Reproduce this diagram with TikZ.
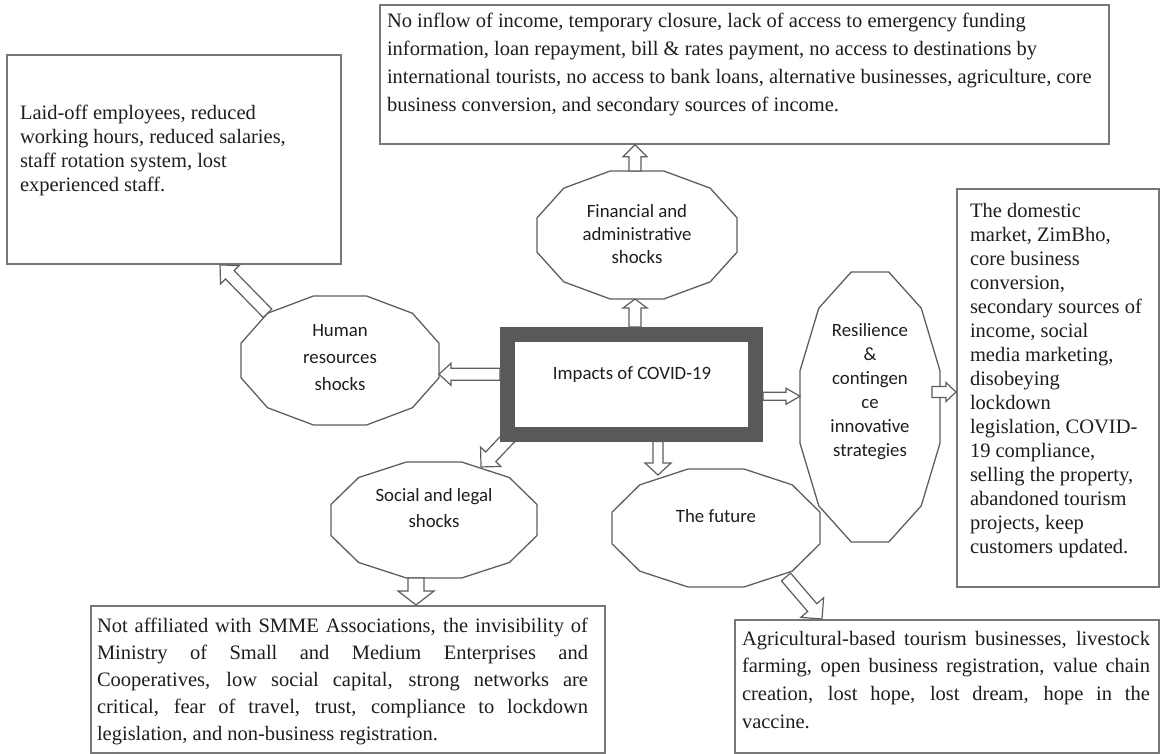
\documentclass[tikz,border=0pt]{standalone}
\usepackage{fontspec}
\setmainfont{Liberation Serif}
\newfontfamily\calfont{Carlito}
\usetikzlibrary{calc}
\pgfdeclarelayer{bg}
\pgfdeclarelayer{back}
\pgfsetlayers{bg,back,main}

\definecolor{boxgray}{HTML}{777777}
\definecolor{framegray}{HTML}{595959}
\definecolor{octgray}{HTML}{5E5E5E}
\definecolor{txt}{HTML}{1E1E1E}

\tikzset{
  textbox/.style={draw=boxgray, line width=1.8pt, fill=white, inner sep=0pt, anchor=north west},
  boxtext/.style={text=txt, inner sep=0pt, outer sep=0pt, anchor=north west, align=left},
  octnode/.style={inner sep=0pt, outer sep=0pt},
  octtext/.style={text=txt, inner sep=0pt, align=center},
  octline/.style={draw=octgray, line width=1.3pt, fill=white, line join=miter},
  blockarrow/.style={draw=octgray, line width=1.2pt, fill=white, line join=miter},
  frame/.style={draw=framegray, line width=15pt, fill=white, inner sep=0pt}
}

\newcommand\dodecshape[1]{%
  \draw[octline] let \p1=(#1.north west), \p2=(#1.south east) in
  ({\x1+0.366*(\x2-\x1)},\y1) -- ({\x1+0.634*(\x2-\x1)},\y1)
  -- ({\x1+0.866*(\x2-\x1)},{\y1+0.134*(\y2-\y1)})
  -- (\x2,{\y1+0.366*(\y2-\y1)}) -- (\x2,{\y1+0.634*(\y2-\y1)})
  -- ({\x1+0.866*(\x2-\x1)},{\y1+0.866*(\y2-\y1)})
  -- ({\x1+0.634*(\x2-\x1)},\y2) -- ({\x1+0.366*(\x2-\x1)},\y2)
  -- ({\x1+0.134*(\x2-\x1)},{\y1+0.866*(\y2-\y1)})
  -- (\x1,{\y1+0.634*(\y2-\y1)}) -- (\x1,{\y1+0.366*(\y2-\y1)})
  -- ({\x1+0.134*(\x2-\x1)},{\y1+0.134*(\y2-\y1)}) -- cycle;}

% #1 from, #2 to, #3 half shaft, #4 half head, #5 head length
\newcommand\blockarr[5]{%
  \path let \p1=(#1), \p2=(#2) in \pgfextra{%
    \pgfmathsetmacro\tmpang{atan2(\y2-\y1,\x2-\x1)}%
    \pgfmathsetmacro\tmplen{veclen(\x2-\x1,\y2-\y1)}%
    \global\let\barang\tmpang
    \global\let\barlen\tmplen};
  \draw[blockarrow, shift={(#1)}, rotate=\barang]
    (0pt,#3pt) -- ({\barlen pt-#5pt},#3pt) -- ({\barlen pt-#5pt},#4pt) -- (\barlen pt,0pt)
    -- ({\barlen pt-#5pt},-#4pt) -- ({\barlen pt-#5pt},-#3pt) -- (0pt,-#3pt) -- cycle;}

\begin{document}
\begin{tikzpicture}[x=1pt,y=-1pt]
\begin{pgfonlayer}{bg}
\fill[white] (0,0) rectangle (1163,754);
\end{pgfonlayer}
\useasboundingbox (0,0) rectangle (1163,754);

% text boxes
\node[textbox, minimum width=729pt, minimum height=139pt] (tbox) at (379,4) {};
\node[textbox, minimum width=334pt, minimum height=209pt] (lbox) at (6,54) {};
\node[textbox, minimum width=202pt, minimum height=398pt] (rbox) at (956,188) {};
\node[textbox, minimum width=514pt, minimum height=147pt] (blbox) at (90,605) {};
\node[textbox, minimum width=424pt, minimum height=133pt] (brbox) at (734,619) {};

% dodecagons
\node[octnode, minimum width=198pt, minimum height=129pt] (hr) at (340,360.5) {};
\node[octnode, minimum width=200pt, minimum height=128pt] (fin) at (637,235) {};
\node[octnode, minimum width=140pt, minimum height=270pt] (res) at (870,407) {};
\node[octnode, minimum width=206pt, minimum height=116pt] (soc) at (434,520) {};
\node[octnode, minimum width=208pt, minimum height=118pt] (fut) at (716,528) {};
\dodecshape{hr}
\dodecshape{fin}
\dodecshape{res}
\dodecshape{soc}
\dodecshape{fut}

% central box
\node[frame, minimum width=248pt, minimum height=99.5pt] (imp) at (631.5,384.25) {};

% arrows
\coordinate (a1) at ([yshift=10pt]imp.west);
\blockarr{a1}{hr.east |- a1}{6}{11}{12}
\coordinate (a2) at ([xshift=3.5pt]imp.north);
\blockarr{a2}{a2 |- fin.south}{6}{12}{9}
\coordinate (a3) at (a2 |- fin.north);
\blockarr{a3}{a3 |- tbox.south}{6}{12}{12}
\coordinate (a4) at ([yshift=-12pt]imp.east);
\blockarr{a4}{res.west |- a4}{4}{8}{14}
\coordinate (a5) at ([xshift=-8pt,yshift=15pt]res.east);
\blockarr{a5}{rbox.west |- a5}{5.5}{9.5}{10}
\coordinate (a6s) at ([xshift=10pt,yshift=5pt]imp.south west);
\coordinate (a6e) at ([xshift=-56pt,yshift=-5pt]soc.north east);
\begin{pgfonlayer}{back}
\blockarr{a6s}{a6e}{7}{14}{14}
\end{pgfonlayer}
\coordinate (a7) at ([xshift=26.5pt]imp.south);
\coordinate (a7e) at ([yshift=-6pt]a7 |- fut.north);
\blockarr{a7}{a7e}{5}{13}{12}
\coordinate (a8s) at ([xshift=-34pt,yshift=10pt]fut.south east);
\coordinate (a8e) at ([xshift=88pt]brbox.north west);
\blockarr{a8s}{a8e}{6}{15}{15}
\coordinate (a9) at ([xshift=-18pt]soc.south);
\blockarr{a9}{a9 |- blbox.north}{8}{18}{14}
\coordinate (a10s) at ($(hr.north west)!0.134!(hr.south east)$);
\coordinate (a10e) at ([xshift=214pt]lbox.south west);
\blockarr{a10s}{a10e}{6}{13}{14}

% texts in shapes
\node[octtext, anchor=base, font=\calfont\fontsize{18.8}{24}\selectfont] (imp-t) at (632,379.4) {Impacts of COVID-19};
\node[octtext, font=\calfont\fontsize{18.8}{27}\selectfont] (hr-t) at (340,358) {Human\\resources\\shocks};
\node[octtext, font=\calfont\fontsize{18.8}{23}\selectfont] (fin-t) at (637,234) {Financial and\\administrative\\shocks};
\node[octtext, font=\calfont\fontsize{18.8}{24}\selectfont] (res-t) at (870,392) {Resilience\\\&\\contingen\\ce\\innovative\\strategies};
\node[octtext, font=\calfont\fontsize{18.8}{26}\selectfont] (soc-t) at (434,508) {Social and legal\\shocks};
\node[octtext, anchor=base, font=\calfont\fontsize{18.8}{24}\selectfont] (fut-t) at (716,522.4) {The future};

% texts in boxes
\node[boxtext, font=\fontsize{20.5}{28}\selectfont] (tbox-t) at (387,12)
{\rule{0pt}{16pt}No inflow of income, temporary closure, lack of access to emergency funding\\
information, loan repayment, bill \& rates payment, no access to destinations by\\
international tourists, no access to bank loans, alternative businesses, agriculture, core\\
business conversion, and secondary sources of income.};

\node[boxtext, font=\fontsize{20.5}{24}\selectfont] (lbox-t) at (20,104)
{\rule{0pt}{16pt}Laid-off employees, reduced\\
working hours, reduced salaries,\\
staff rotation system, lost\\
experienced staff.};

\node[boxtext, font=\fontsize{20.5}{24}\selectfont] (rbox-t) at (970,201)
{\rule{0pt}{16pt}The domestic\\
market, ZimBho,\\
core business\\
conversion,\\
secondary sources of\\
income, social\\
media marketing,\\
disobeying\\
lockdown\\
legislation, COVID-\\
19 compliance,\\
selling the property,\\
abandoned tourism\\
projects, keep\\
customers updated.};

\node[boxtext, font=\fontsize{20.5}{27}\selectfont] (blbox-t) at (97,616)
{\makebox[491pt][s]{\rule{0pt}{16pt}Not affiliated with SMME Associations, the invisibility of}\\
\makebox[491pt][s]{Ministry of Small and Medium Enterprises and}\\
\makebox[491pt][s]{Cooperatives, low social capital, strong networks are}\\
\makebox[491pt][s]{critical, fear of travel, trust, compliance to lockdown}\\
legislation, and non-business registration.};

\node[boxtext, font=\fontsize{20.5}{27.7}\selectfont] (brbox-t) at (742,629)
{\makebox[408pt][s]{\rule{0pt}{16pt}Agricultural-based tourism businesses, livestock}\\
\makebox[408pt][s]{farming, open business registration, value chain}\\
\makebox[408pt][s]{creation, lost hope, lost dream, hope in the}\\
vaccine.};
\end{tikzpicture}
\end{document}
